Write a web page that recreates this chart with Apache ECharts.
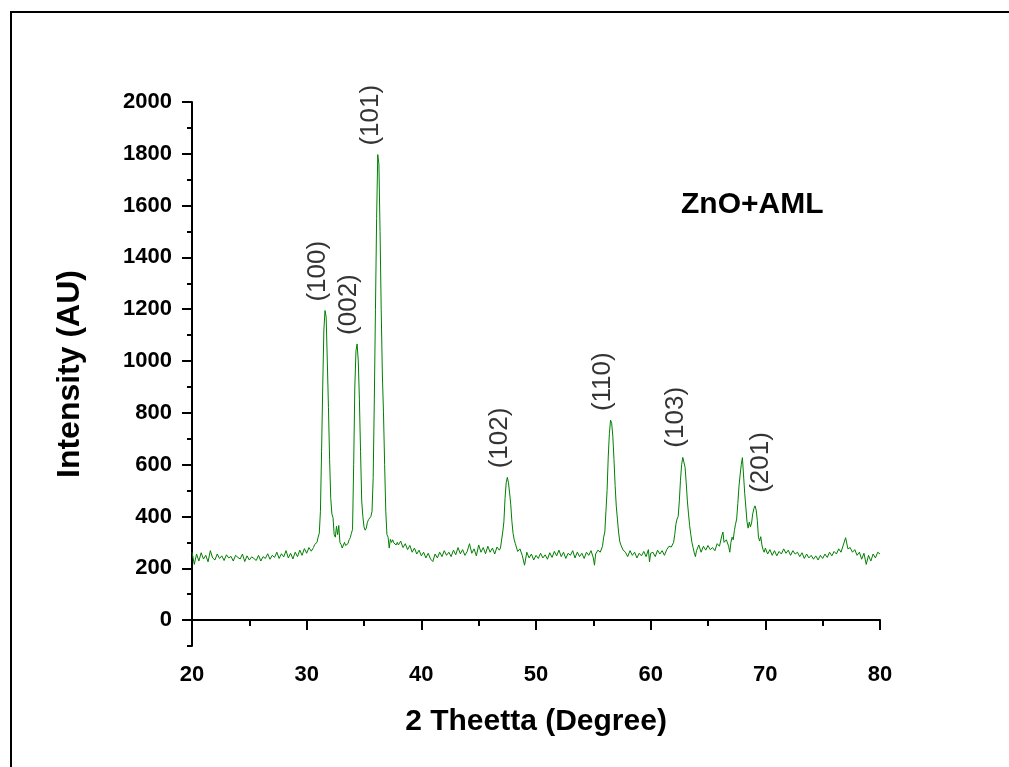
<!DOCTYPE html>
<html>
<head>
<meta charset="utf-8">
<script src="https://cdn.jsdelivr.net/npm/echarts@6/dist/echarts.min.js"></script>
<style>
  html, body { margin: 0; padding: 0; background: #fff; }
  #chart { width: 1009px; height: 767px; }
</style>
</head>
<body>
<div id="chart"></div>
<script>
// XRD scan: [2 theta, intensity]
const scan = [
  [20.0, 262], [20.2, 215], [20.4, 255], [20.6, 228], [20.8, 260], [21.0, 236], [21.2, 250], [21.4, 225],
  [21.6, 268], [21.8, 240], [22.0, 232], [22.2, 255], [22.4, 238], [22.6, 248], [22.8, 230], [23.0, 252],
  [23.2, 240], [23.4, 246], [23.6, 228], [23.8, 250], [24.0, 242], [24.2, 236], [24.4, 255], [24.6, 226],
  [24.8, 248], [25.0, 232], [25.2, 244], [25.4, 238], [25.6, 230], [25.8, 250], [26.0, 228], [26.2, 245],
  [26.4, 238], [26.6, 256], [26.8, 235], [27.0, 250], [27.2, 242], [27.4, 262], [27.6, 238], [27.8, 256],
  [28.0, 244], [28.2, 268], [28.4, 240], [28.6, 258], [28.8, 236], [29.0, 262], [29.2, 245], [29.4, 270],
  [29.6, 250], [29.8, 276], [30.0, 258], [30.2, 280], [30.4, 266],
  [30.6, 280], [30.7, 292], [30.8, 288], [30.9, 300], [31.0, 320], [31.1, 335], [31.2, 420], [31.3, 650],
  [31.4, 900], [31.5, 1120], [31.6, 1195], [31.7, 1170], [31.8, 1000], [31.9, 820], [32.0, 620], [32.1, 470],
  [32.2, 410], [32.3, 395], [32.4, 330], [32.5, 320], [32.6, 362], [32.7, 330], [32.8, 365], [32.9, 300],
  [33.0, 292], [33.1, 278], [33.2, 285], [33.3, 300], [33.4, 288], [33.5, 282], [33.6, 295], [33.7, 310],
  [33.8, 318], [33.9, 335], [34.0, 350], [34.1, 600], [34.2, 900], [34.3, 1040], [34.4, 1066], [34.5, 1000],
  [34.6, 850], [34.7, 650], [34.8, 460], [34.9, 400], [35.0, 360], [35.1, 347], [35.2, 355], [35.3, 378],
  [35.4, 388], [35.5, 392], [35.6, 400], [35.7, 420], [35.8, 550], [35.9, 850], [36.0, 1200], [36.1, 1550],
  [36.2, 1797], [36.3, 1760], [36.4, 1500], [36.5, 1200], [36.6, 950], [36.7, 800], [36.8, 600], [36.9, 420],
  [37.0, 330], [37.1, 320], [37.2, 278], [37.3, 312], [37.4, 300], [37.5, 310], [37.6, 298], [37.7, 305],
  [37.8, 290], [37.9, 300],
  [38.0, 290], [38.2, 305], [38.4, 280], [38.6, 295], [38.8, 272], [39.0, 288], [39.2, 262], [39.4, 278],
  [39.6, 255], [39.8, 270], [40.0, 248], [40.2, 262], [40.4, 240], [40.6, 258], [40.8, 236], [41.0, 226],
  [41.2, 255], [41.4, 240], [41.6, 262], [41.8, 245], [42.0, 268], [42.2, 250], [42.4, 262], [42.6, 245],
  [42.8, 270], [43.0, 252], [43.2, 280], [43.4, 256], [43.6, 272], [43.8, 250], [44.0, 265], [44.2, 295],
  [44.4, 258], [44.6, 275], [44.8, 248], [45.0, 290], [45.2, 262], [45.4, 280], [45.6, 256], [45.8, 285],
  [46.0, 262], [46.2, 278], [46.4, 255], [46.6, 282], [46.8, 270],
  [46.9, 278], [47.0, 280], [47.1, 340], [47.2, 380], [47.3, 470], [47.4, 530], [47.5, 551], [47.6, 530],
  [47.7, 490], [47.8, 445], [47.9, 380], [48.0, 335], [48.1, 310], [48.2, 295], [48.3, 288], [48.4, 265],
  [48.6, 275], [48.8, 250], [49.0, 212], [49.2, 262], [49.4, 240], [49.6, 255], [49.8, 232], [50.0, 250],
  [50.2, 238], [50.4, 258], [50.6, 240], [50.8, 252], [51.0, 235], [51.2, 260], [51.4, 242], [51.6, 265],
  [51.8, 248], [52.0, 270], [52.2, 245], [52.4, 262], [52.6, 238], [52.8, 258], [53.0, 250], [53.2, 268],
  [53.4, 240], [53.6, 262], [53.8, 245], [54.0, 258], [54.2, 238], [54.4, 262], [54.6, 250], [54.8, 268],
  [55.0, 240], [55.1, 212], [55.2, 255], [55.4, 270], [55.6, 262], [55.8, 285], [55.9, 320],
  [56.0, 340], [56.1, 420], [56.2, 500], [56.3, 630], [56.4, 720], [56.5, 772], [56.6, 760], [56.7, 710],
  [56.8, 620], [56.9, 520], [57.0, 440], [57.1, 390], [57.2, 340], [57.3, 305], [57.4, 290], [57.6, 270],
  [57.8, 262], [58.0, 245], [58.2, 268], [58.4, 250], [58.6, 262], [58.8, 240], [59.0, 258], [59.2, 248],
  [59.4, 265], [59.6, 245], [59.8, 272], [59.9, 225], [60.0, 258], [60.2, 262], [60.4, 245], [60.6, 270],
  [60.8, 255], [61.0, 268], [61.2, 250], [61.4, 272], [61.6, 285], [61.8, 282],
  [62.0, 300], [62.1, 330], [62.2, 370], [62.3, 390], [62.4, 400], [62.5, 460], [62.6, 540], [62.7, 600],
  [62.8, 628], [62.9, 631], [63.0, 590], [63.1, 530], [63.2, 460], [63.3, 410], [63.4, 365], [63.5, 330],
  [63.6, 300], [63.7, 280], [63.8, 260], [63.9, 245],
  [64.0, 268], [64.2, 290], [64.4, 262], [64.6, 285], [64.8, 270], [65.0, 288], [65.2, 272], [65.4, 280],
  [65.6, 268], [65.8, 295], [66.0, 285], [66.2, 325], [66.3, 340], [66.4, 300], [66.6, 310], [66.8, 285],
  [66.9, 262], [67.0, 300], [67.1, 320],
  [67.2, 310], [67.3, 345], [67.4, 370], [67.5, 390], [67.6, 450], [67.7, 515], [67.8, 560], [67.9, 600],
  [68.0, 627], [68.1, 560], [68.2, 490], [68.3, 436], [68.4, 380], [68.5, 355], [68.6, 378], [68.7, 360],
  [68.8, 375], [68.9, 410], [69.0, 430], [69.1, 441], [69.2, 425], [69.3, 385], [69.4, 320], [69.5, 305],
  [69.6, 322], [69.7, 290], [69.8, 272], [69.9, 262],
  [70.0, 278], [70.2, 255], [70.4, 272], [70.6, 250], [70.8, 268], [71.0, 248], [71.2, 265], [71.4, 255],
  [71.6, 275], [71.8, 258], [72.0, 270], [72.2, 250], [72.4, 268], [72.6, 255], [72.8, 262], [73.0, 245],
  [73.2, 260], [73.4, 238], [73.6, 255], [73.8, 240], [74.0, 250], [74.2, 235], [74.4, 248], [74.6, 232],
  [74.8, 250], [75.0, 238], [75.2, 255], [75.4, 242], [75.6, 262], [75.8, 248], [76.0, 265], [76.2, 255],
  [76.4, 275], [76.6, 262], [76.8, 290], [77.0, 318], [77.2, 275], [77.4, 280], [77.6, 262], [77.8, 272],
  [78.0, 250], [78.2, 262], [78.4, 235], [78.6, 258], [78.8, 215], [79.0, 250], [79.2, 228], [79.4, 255],
  [79.6, 240], [79.8, 262], [80.0, 255]
]

// peak labels (hkl) placed over the peak tops
const peakNames = ['(100)', '(002)', '(101)', '(102)', '(110)', '(103)', '(201)']
const peakTheta = [31.65, 34.4, 36.25, 47.5, 56.5, 62.85, 69.15]
const peakTop = [1195, 1066, 1797, 551, 772, 631, 441]

const yMajorTicks = [0, 200, 400, 600, 800, 1000, 1200, 1400, 1600, 1800, 2000]
const yMinorTicks = [-100, 100, 300, 500, 700, 900, 1100, 1300, 1500, 1700, 1900]

const font = '"Liberation Sans", Arial, sans-serif'
const chart = echarts.init(document.getElementById('chart'))

const labelData = peakNames.map((name, i) => {
  const item = { value: [peakTheta[i], peakTop[i]], name }
  if (name === '(201)') item.label = { position: [5, -13] }
  return item
})

chart.setOption({
  animation: false,
  backgroundColor: '#fff',
  textStyle: { fontFamily: font },
  grid: { left: 192, right: 129, top: 102, bottom: 121 },
  graphic: [{
    type: 'rect',
    shape: { x: 11, y: 12, width: 1200, height: 900 },
    style: { fill: 'none', stroke: '#000', lineWidth: 2 },
    silent: true
  }],
  title: {
    text: 'ZnO+AML',
    left: 681,
    top: 190,
    padding: 0,
    textStyle: { fontFamily: font, fontSize: 30, fontWeight: 'bold', color: '#000' }
  },
  xAxis: {
    type: 'value',
    min: 20,
    max: 80,
    interval: 10,
    name: '2 Theetta (Degree)',
    nameLocation: 'middle',
    nameGap: 61,
    nameTextStyle: { fontFamily: font, fontSize: 30, fontWeight: 'bold', color: '#000' },
    axisLine: { lineStyle: { color: '#000', width: 2 } },
    axisTick: { length: 10, lineStyle: { color: '#000', width: 2 } },
    minorTick: { show: true, splitNumber: 2, length: 6, lineStyle: { color: '#000', width: 2 } },
    splitLine: { show: false },
    axisLabel: { fontFamily: font, fontSize: 22, fontWeight: 'bold', color: '#000', margin: 18 }
  },
  yAxis: [{
    type: 'value',
    min: -100,
    max: 2000,
    name: 'Intensity (AU)',
    nameLocation: 'middle',
    nameGap: 106,
    nameTextStyle: { fontFamily: font, fontSize: 32, fontWeight: 'bold', color: '#000' },
    axisLine: { show: true, lineStyle: { color: '#000', width: 2 } },
    axisTick: { show: true, length: 10, customValues: yMajorTicks, lineStyle: { color: '#000', width: 2 } },
    splitLine: { show: false },
    axisLabel: {
      customValues: yMajorTicks,
      formatter: (v) => String(v),
      fontFamily: font, fontSize: 22, fontWeight: 'bold', color: '#000', margin: 20
    }
  }, {
    type: 'value',
    position: 'left',
    min: -100,
    max: 2000,
    axisLine: { show: false },
    axisTick: { show: true, length: 5, customValues: yMinorTicks, lineStyle: { color: '#000', width: 2 } },
    axisLabel: { show: false },
    splitLine: { show: false }
  }],
  series: [{
    type: 'line',
    data: scan,
    showSymbol: false,
    symbol: 'none',
    lineStyle: { color: '#008000', width: 1 },
    silent: true
  }, {
    type: 'scatter',
    data: labelData,
    symbolSize: 0,
    silent: true,
    label: {
      show: true,
      formatter: '{b}',
      position: [-8, -9],
      rotate: 90,
      align: 'left',
      verticalAlign: 'middle',
      fontFamily: font,
      fontSize: 26,
      color: '#000'
    }
  }]
})
</script>
</body>
</html>
